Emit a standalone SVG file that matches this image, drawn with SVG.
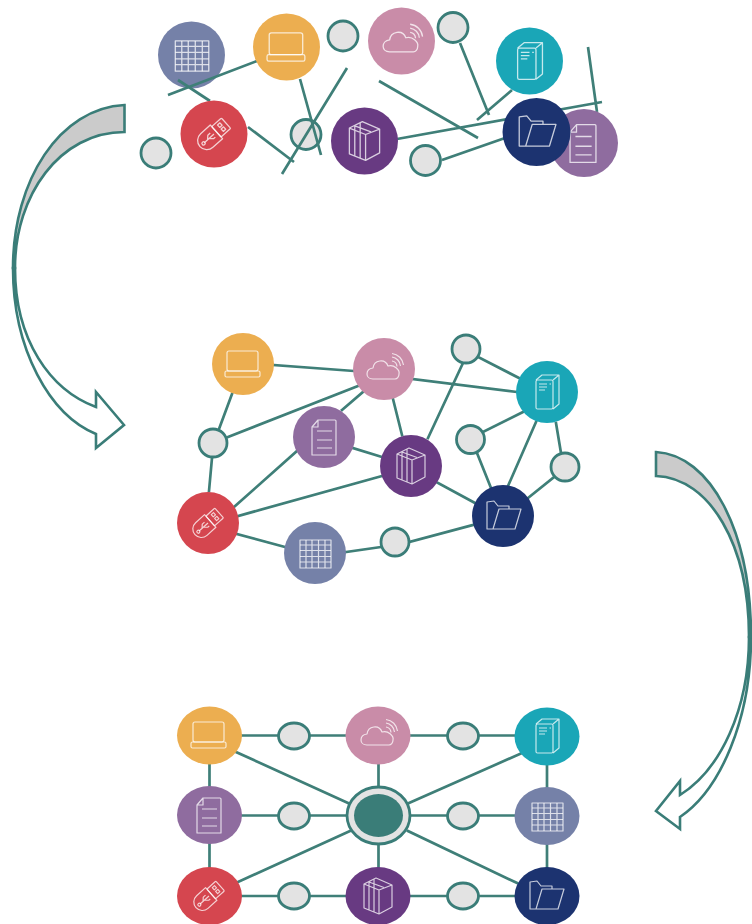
<svg xmlns="http://www.w3.org/2000/svg" xmlns:xlink="http://www.w3.org/1999/xlink" width="752" height="924" viewBox="0 0 752 924">
<style>
.e{stroke:#3f7f78;stroke-width:2.7;fill:none}
.q{stroke-linecap:square}
.s{fill:#e3e3e3;stroke:#3a7d78;stroke-width:2.8}
.i{fill:none;stroke:#fff;stroke-opacity:.75;stroke-width:1.2;stroke-linejoin:round}
.a{stroke:#3a7d78;stroke-width:2.6;stroke-linejoin:miter}
.table{fill:#7581a8}.laptop{fill:#ecae50}.usb{fill:#d5464f}.books{fill:#683a82}.cloud{fill:#c98ca8}.server{fill:#1aa6b7}.folder{fill:#1c3370}.doc{fill:#8f6c9f}
</style>
<defs>
<g id="i-laptop" class="i"><rect x="-16" y="-13" width="31" height="20" rx="2"/><rect x="-18" y="7" width="35" height="6" rx="1.5"/></g>
<g id="i-cloud" class="i"><path d="M-11 10C-19 10-19 0-11-1C-10-9 1-11 4-3C10-5 16 1 15 5C15 8 13 10 11 10Z"/><path d="M8-8A6 6 0 0 1 13-2.500M8-12A10 10 0 0 1 16.500-3M8-15.500A13 13 0 0 1 19.500-4"/></g>
<g id="i-server" class="i"><rect x="-11" y="-12" width="17" height="29" rx="1.500"/><path d="M-11-12L-5-17H12V12L6 17M6-12L12-17M-8-8H0M-8-5H0M-8-2H-2M2.500-8H4"/></g>
<g id="i-doc" class="i"><path d="M-6-17H11Q12-17 12-16V18H-12V-10ZM-6-17V-10H-12M-7-6H8M-7 3H8M-7 11H8"/></g>
<g id="i-books" class="i"><path d="M-14-12L-2-18L14-11V11L1 18L-14 12ZM1-6V18M1-6L14-11M-14-12L1-6M-9-14V14M-4-16.500V16M-9-14L6-8.500"/></g>
<g id="i-folder" class="i"><path d="M-10 13H-16V-14L-9-15L-5-10H6V-7M-10 13L-4-7H18L12 13Z"/></g>
<g id="i-table" class="i"><rect x="-15" y="-13" width="31" height="28"/><path d="M-15-8H16M-15-2.500H16M-15 3.500H16M-15 9H16M-9-13V15M-3-13V15M3.500-13V15M10-13V15"/></g>
<g id="i-usb" class="i"><g transform="rotate(-42)"><path d="M3-8.500H-9A8.500 8.500 0 0 0-9 8.500H3Z"/><rect x="3" y="-6.500" width="12" height="13" rx="1"/><path d="M8-4h3v3h-3zM8 1h3v3h-3zM-12 0H0M-8 0L-5-3H-2M-6 0L-3 3H-1"/><circle cx="-13" cy="0" r="1.500"/></g></g>
</defs>
<rect width="752" height="924" fill="#fff"/>

<g id="arrow-left">
<path class="a" fill="#fff" d="M13 268C13 350 50 415 96 434V448L124 425L96 392V407C50 390 15 340 15 268Z"/>
<path class="a" fill="#cbcbcb" d="M124.500 105C60 108 13 180 13 268H15C15 195 60 132 124.500 132Z"/>
</g>
<g id="arrow-right">
<path class="a" fill="#fff" d="M751 637C751 720 720 790 680 817V829L656 811L680 781V795C720 770 749 710 749 637Z"/>
<path class="a" fill="#cbcbcb" d="M656 452C710 455 751 530 751 637H749C749 545 710 478 656 476Z"/>
</g>

<g id="top-under">
<g id="t-table"><circle class="table" cx="191.500" cy="55" r="33.500"/><use xlink:href="#i-table" href="#i-table" transform="translate(191.500 55) scale(1.080)"/></g>
<circle id="t-s3" class="s" cx="306" cy="134.500" r="15"/>
</g>
<g id="top-connectors">
<path class="e" d="M168 95L257 61M178 80L210 101M300 79L321 155M347 68L282 174M248 127L294 162M379 81L478 138M460 43L489 115M512 90L477 120M397 139L602 102M442 160L505 138M588 47L597 112"/>
</g>
<g id="t-laptop"><circle class="laptop" cx="286.500" cy="47" r="33.500"/><use xlink:href="#i-laptop" href="#i-laptop" transform="translate(286.500 47) scale(1.080)"/></g>
<g id="t-usb"><circle class="usb" cx="214" cy="134" r="33.500"/><use xlink:href="#i-usb" href="#i-usb" transform="translate(214 134) scale(1.080)"/></g>
<g id="t-books"><circle class="books" cx="364.500" cy="141" r="33.500"/><use xlink:href="#i-books" href="#i-books" transform="translate(364.500 141) scale(1.080)"/></g>
<g id="t-cloud"><circle class="cloud" cx="401.500" cy="41" r="33.500"/><use xlink:href="#i-cloud" href="#i-cloud" transform="translate(401.500 41) scale(1.080)"/></g>
<g id="t-server"><circle class="server" cx="529.500" cy="61" r="33.500"/><use xlink:href="#i-server" href="#i-server" transform="translate(529.500 61) scale(1.080)"/></g>
<g id="t-doc"><circle class="doc" cx="584" cy="143" r="34"/><use xlink:href="#i-doc" href="#i-doc" transform="translate(583 143) scale(1.080)"/></g>
<g id="t-folder"><circle class="folder" cx="536.500" cy="132" r="34"/><use xlink:href="#i-folder" href="#i-folder" transform="translate(536.500 132) scale(1.080)"/></g>
<circle id="t-s1" class="s" cx="343" cy="36" r="15"/>
<circle id="t-s2" class="s" cx="156" cy="153" r="15"/>
<circle id="t-s4" class="s" cx="453" cy="27.500" r="15"/>
<circle id="t-s5" class="s" cx="425.500" cy="160.500" r="15"/>

<g id="mid-connectors">
<path class="e q" d="M274 365L354 371M232 394L219 429M228 437L358 386M212 458L209 491M413 379L517 392M363 392L342 410M393 399L402 435M478 357L519 378M463 363L428 438M483 432L523 412M477 453L491 488M536 422L508 486M556 423L561 453M553 478L528 498M353 448L382 457M297 451L234 507M238 516L382 476M438 483L475 503M237 534L285 547M346 552L381 547M409 542L473 525"/>
</g>
<g id="m-laptop"><circle class="laptop" cx="243" cy="364" r="31"/><use xlink:href="#i-laptop" href="#i-laptop" x="243" y="364"/></g>
<g id="m-cloud"><circle class="cloud" cx="384" cy="369" r="31"/><use xlink:href="#i-cloud" href="#i-cloud" x="384" y="369"/></g>
<g id="m-server"><circle class="server" cx="547" cy="392" r="31"/><use xlink:href="#i-server" href="#i-server" x="547" y="392"/></g>
<g id="m-doc"><circle class="doc" cx="324" cy="437" r="31"/><use xlink:href="#i-doc" href="#i-doc" x="324" y="437"/></g>
<g id="m-books"><circle class="books" cx="411" cy="466" r="31"/><use xlink:href="#i-books" href="#i-books" x="411" y="466"/></g>
<g id="m-folder"><circle class="folder" cx="503" cy="516" r="31"/><use xlink:href="#i-folder" href="#i-folder" x="503" y="516"/></g>
<g id="m-usb"><circle class="usb" cx="208" cy="523" r="31"/><use xlink:href="#i-usb" href="#i-usb" x="208" y="523"/></g>
<g id="m-table"><circle class="table" cx="315" cy="553" r="31"/><use xlink:href="#i-table" href="#i-table" x="315" y="553"/></g>
<circle id="m-s1" class="s" cx="466" cy="349" r="14"/>
<circle id="m-s2" class="s" cx="213" cy="443" r="14"/>
<circle id="m-s3" class="s" cx="470.500" cy="439.500" r="14"/>
<circle id="m-s4" class="s" cx="565" cy="467" r="14"/>
<circle id="m-s5" class="s" cx="395" cy="542" r="14"/>

<g id="bottom-connectors">
<path class="e q" d="M209.500 735.500H547M209.500 815.500H547M209.500 896H547M209.500 735.500V896M378.500 735.500V896M547 736V896M236 752L348 803M522 753L409 803M238 882L350 831M408 831L517 883"/>
</g>
<g id="b-laptop"><ellipse class="laptop" cx="209.500" cy="735.500" rx="32.500" ry="29"/><use xlink:href="#i-laptop" href="#i-laptop" x="209" y="735"/></g>
<g id="b-cloud"><ellipse class="cloud" cx="378" cy="735.500" rx="32.500" ry="29"/><use xlink:href="#i-cloud" href="#i-cloud" x="378" y="735"/></g>
<g id="b-server"><ellipse class="server" cx="547" cy="736.500" rx="32.500" ry="29"/><use xlink:href="#i-server" href="#i-server" x="547" y="736"/></g>
<g id="b-doc"><ellipse class="doc" cx="209.500" cy="815" rx="32.500" ry="29"/><use xlink:href="#i-doc" href="#i-doc" x="209" y="815"/></g>
<g id="b-table"><ellipse class="table" cx="547" cy="816" rx="32.500" ry="29"/><use xlink:href="#i-table" href="#i-table" x="547" y="816"/></g>
<g id="b-usb"><ellipse class="usb" cx="209.500" cy="896" rx="32.500" ry="29"/><use xlink:href="#i-usb" href="#i-usb" x="209" y="896"/></g>
<g id="b-books"><ellipse class="books" cx="378" cy="896" rx="32.500" ry="29"/><use xlink:href="#i-books" href="#i-books" x="378" y="896"/></g>
<g id="b-folder"><ellipse class="folder" cx="547" cy="896" rx="32.500" ry="29"/><use xlink:href="#i-folder" href="#i-folder" x="546" y="896"/></g>
<g id="b-center"><ellipse class="s" cx="378.500" cy="815.500" rx="31.500" ry="28.500"/><ellipse cx="378.500" cy="815.500" rx="24.500" ry="21.500" fill="#3a7d78"/></g>
<ellipse id="b-s1" class="s" cx="294" cy="736" rx="15.500" ry="13"/>
<ellipse id="b-s2" class="s" cx="463" cy="736" rx="15.500" ry="13"/>
<ellipse id="b-s3" class="s" cx="294" cy="816" rx="15.500" ry="13"/>
<ellipse id="b-s4" class="s" cx="463" cy="816" rx="15.500" ry="13"/>
<ellipse id="b-s5" class="s" cx="294" cy="896" rx="15.500" ry="13"/>
<ellipse id="b-s6" class="s" cx="463" cy="896" rx="15.500" ry="13"/>
</svg>
